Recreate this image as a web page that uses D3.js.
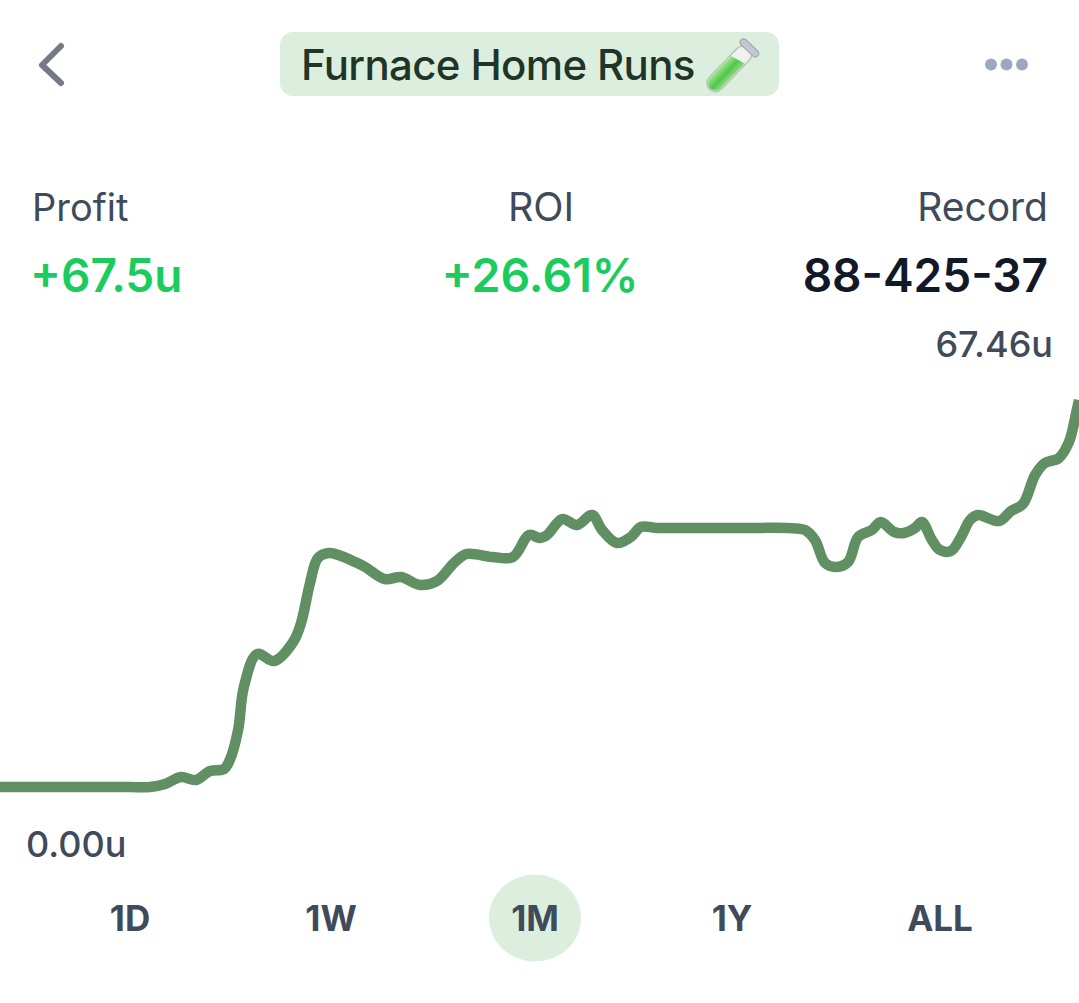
<!DOCTYPE html>
<html>
<head>
<meta charset="utf-8">
<script src="https://cdnjs.cloudflare.com/ajax/libs/d3/7.8.5/d3.min.js"></script>
<style>
  html, body { margin: 0; padding: 0; background: #fff; }
  svg { display: block; }
  text { font-family: Inter, "Noto Sans", sans-serif; }
</style>
</head>
<body>
<div id="chart"></div>
<script>
var days = [0, 2, 3.6, 4.17, 4.59, 5.03, 5.45, 5.84, 6.23, 6.39, 6.62, 6.78, 7.15, 7.62, 8.15, 8.37, 8.62, 8.84,
  9.15, 9.48, 9.87, 10.15, 10.70, 11.15, 11.68, 12.15, 12.65, 12.98, 13.68, 14.26, 14.71, 15.01, 15.21,
  15.63, 16.04, 16.46, 16.74, 17.15, 17.54, 17.82, 18.27, 19, 20, 21, 21.88, 22.38, 22.66, 22.94, 23.24, 23.58, 23.86,
  24.24, 24.49, 24.86, 25.13, 25.44, 25.63, 25.91, 26.13, 26.44, 26.72, 26.97, 27.19, 27.78, 28.11, 28.44,
  28.78, 29.05, 29.44, 29.72, 29.92, 30];
var profit = [0, 0, 0, 0, 0.52, 1.74, 1.22, 2.79, 3.14, 4.71, 9.94, 17.43, 23.18, 21.96, 25.27, 28.59, 35.56, 39.91,
  40.79, 40.27, 39.22, 38.35, 36.25, 36.60, 35.21, 35.90, 39.22, 40.62, 40.10, 40.10, 43.93, 43.40, 43.93,
  46.71, 45.67, 47.41, 44.80, 42.53, 43.58, 45.32, 45.15, 45.15, 45.15, 45.15, 45.15, 44.80, 43.06, 39.04, 38.35, 39.22, 43.58,
  44.80, 46.19, 44.45, 44.28, 45.15, 46.19, 43.06, 41.32, 41.14, 43.58, 46.54, 47.41, 46.36, 48.10, 49.32,
  54.38, 56.47, 57.34, 60.13, 65.19, 67.46];

var title = 'Furnace Home Runs';
var statLabels = ['Profit', 'ROI', 'Record'];
var statValues = ['+67.5u', '+26.61%', '88-425-37'];
var statColors = ['#1ccb5e', '#1ccb5e', '#111827'];
var ranges = ['1D', '1W', '1M', '1Y', 'ALL'];
var activeRange = '1M';

var width = 1079,
  height = 1003,
  green = '#5f8f62',
  pale = '#dcefdf',
  slate = '#3f4a5a';

var svg = d3.select('#chart').append('svg')
  .attr('width', width)
  .attr('height', height)
  .attr('viewBox', '0 0 ' + width + ' ' + height);

var x = d3.scaleLinear().domain([0, 30]).range([0, width]);
var y = d3.scaleLinear().domain([0, 67.46]).range([787, 400]);

// header
svg.append('path')
  .attr('d', 'M61,46 L42,65 L61,83')
  .attr('fill', 'none')
  .attr('stroke', '#737985')
  .attr('stroke-width', 6)
  .attr('stroke-linecap', 'round')
  .attr('stroke-linejoin', 'round');

svg.append('rect')
  .attr('x', 280).attr('y', 32)
  .attr('width', 499).attr('height', 64)
  .attr('rx', 13)
  .attr('fill', pale);

svg.append('text')
  .attr('x', 301).attr('y', 80)
  .attr('font-size', 42)
  .attr('font-weight', 500)
  .attr('letter-spacing', -0.65)
  .attr('fill', '#1f3527')
  .text(title);

// test tube
var defs = svg.append('defs');
var liquid = defs.append('linearGradient').attr('id', 'liquid')
  .attr('x1', 0).attr('x2', 1).attr('y1', 0).attr('y2', 0);
liquid.append('stop').attr('offset', '0%').attr('stop-color', '#9be58a');
liquid.append('stop').attr('offset', '55%').attr('stop-color', '#4fc64a');
liquid.append('stop').attr('offset', '100%').attr('stop-color', '#8ddc7c');

var tube = svg.append('g').attr('transform', 'translate(731,67) rotate(44)');
tube.append('rect')
  .attr('x', -8.5).attr('y', -26).attr('width', 17).attr('height', 57).attr('rx', 8.5)
  .attr('fill', '#eef3ee').attr('stroke', '#b7c4b8').attr('stroke-width', 1.5);
tube.append('path')
  .attr('d', 'M-7.5,-8 L7.5,-12 L7.5,22.5 A7.5,7.5 0 0 1 -7.5,22.5 Z')
  .attr('fill', 'url(#liquid)');
tube.append('rect')
  .attr('x', -11.5).attr('y', -30).attr('width', 23).attr('height', 7).attr('rx', 3.5)
  .attr('fill', '#c3c8d0').attr('stroke', '#9aa1ad').attr('stroke-width', 1);

svg.append('g').selectAll('circle')
  .data([0, 1, 2])
  .enter()
  .append('circle')
  .attr('cx', function (d) { return 991 + d * 15.5; })
  .attr('cy', 64.5)
  .attr('r', 6)
  .attr('fill', '#9ba8c0');

// stats row
var statX = [32, 541, 1048],
  statValueX = [30, 540, 1048],
  statAnchor = ['start', 'middle', 'end'],
  statLabelSize = [38, 39.5, 39],
  statValueSize = [46, 46.5, 46];

svg.append('g').selectAll('text')
  .data(statLabels)
  .enter()
  .append('text')
  .attr('x', function (d, i) { return statX[i]; })
  .attr('y', 221)
  .attr('text-anchor', function (d, i) { return statAnchor[i]; })
  .attr('font-size', function (d, i) { return statLabelSize[i]; })
  .attr('fill', slate)
  .text(function (d) { return d; });

svg.append('g').selectAll('text')
  .data(statValues)
  .enter()
  .append('text')
  .attr('x', function (d, i) { return statValueX[i]; })
  .attr('y', 292)
  .attr('text-anchor', function (d, i) { return statAnchor[i]; })
  .attr('font-size', function (d, i) { return statValueSize[i]; })
  .attr('font-weight', 600)
  .attr('fill', function (d, i) { return statColors[i]; })
  .text(function (d) { return d; });

// line
var line = d3.line()
  .x(function (d) { return x(d[0]); })
  .y(function (d) { return y(d[1]); })
  .curve(d3.curveCatmullRom.alpha(0.5));

svg.append('path')
  .datum(days.map(function (d, i) { return [d, profit[i]]; }))
  .attr('d', line)
  .attr('fill', 'none')
  .attr('stroke', green)
  .attr('stroke-width', 10.5)
  .attr('stroke-linejoin', 'round');

svg.append('text')
  .attr('x', 1053).attr('y', 357)
  .attr('text-anchor', 'end')
  .attr('font-size', 36)
  .attr('font-weight', 500)
  .attr('fill', slate)
  .text(d3.max(profit).toFixed(2) + 'u');

svg.append('text')
  .attr('x', 26).attr('y', 857)
  .attr('font-size', 36)
  .attr('font-weight', 500)
  .attr('fill', slate)
  .text(d3.min(profit).toFixed(2) + 'u');

// range selector
var rangeX = d3.scaleOrdinal().domain(ranges).range([130, 331, 535, 732, 940]);

svg.append('ellipse')
  .attr('cx', rangeX(activeRange))
  .attr('cy', 918)
  .attr('rx', 46)
  .attr('ry', 43.5)
  .attr('fill', pale);

svg.append('g').selectAll('text')
  .data(ranges)
  .enter()
  .append('text')
  .attr('x', function (d) { return rangeX(d); })
  .attr('y', 931)
  .attr('text-anchor', 'middle')
  .attr('font-size', 35)
  .attr('font-weight', 700)
  .attr('fill', slate)
  .text(function (d) { return d; });
</script>
</body>
</html>
